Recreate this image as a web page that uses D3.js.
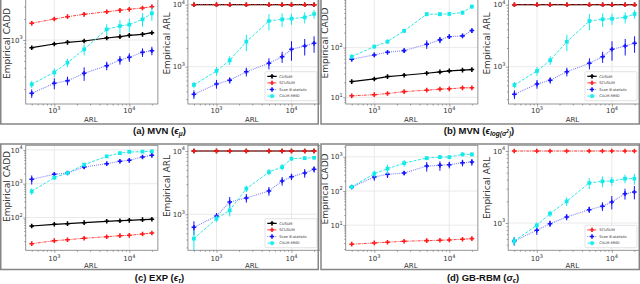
<!DOCTYPE html>
<html><head><meta charset="utf-8">
<script src="https://cdn.jsdelivr.net/npm/d3@7"></script>
<style>body{margin:0;background:#fff}svg{display:block}</style>
</head><body>
<svg id="c" width="640" height="284"></svg>
<script>
// ---------------- DATA ----------------
const ARL = [500, 1000, 1500, 2500, 5000, 7500, 10000, 15000, 20000];
const seriesNames = ["CUSUM", "SCUSUM", "Scan B-statistic", "CALM-MMD"];
const xTickLabels = ["10^3", "10^4"];

// (a) MVN (eps_mu)
const aCaddCusum = [776, 877, 927, 968, 1068, 1115, 1167, 1206, 1271];
const aCaddCusumErr = [25, 30, 30, 32, 35, 37, 38, 40, 42];
const aCaddScusum = [1733, 1995, 2153, 2328, 2536, 2656, 2746, 2865, 2990];
const aCaddScusumErr = [120, 130, 140, 150, 170, 180, 185, 190, 200];
const aCaddScanB = [173, 241, 262, 334, 430, 518, 566, 667, 703];
const aCaddScanBErr = [24, 43, 37, 73, 60, 73, 79, 93, 98];
const aCaddCalm = [233, 346, 474, 736, 1422, 1585, 1655, 1976, 2406];
const aCaddCalmErr = [27, 48, 66, 132, 254, 345, 361, 431, 525];

const aArlCusum = [10000, 10000, 10000, 10000, 10000, 10000, 10000, 10000, 10000];
const aArlScusum = [10000, 10000, 10000, 10000, 10000, 10000, 10000, 10000, 10000];
const aArlScanB = [359, 526, 604, 830, 1135, 1449, 1909, 2157, 2384];
const aArlScanBErr = [57, 84, 71, 133, 232, 296, 660, 641, 708];
const aArlCalm = [507, 853, 1268, 2530, 5458, 5816, 5943, 6266, 7079];
const aArlCalmErr = [60, 137, 203, 751, 1620, 1450, 1213, 1279, 1133];

// (b) MVN (eps_log(sigma^2))
const bCaddCusum = [20.7, 23.4, 26.1, 27.8, 30.5, 32.4, 34.0, 35.1, 36.1];
const bCaddCusumErr = [0.6, 0.6, 0.7, 0.7, 0.8, 0.8, 0.9, 0.9, 0.9];
const bCaddScusum = [10.7, 11.3, 11.9, 13.0, 13.9, 14.6, 14.8, 15.5, 15.5];
const bCaddScusumErr = [0.5, 0.5, 0.5, 0.6, 0.6, 0.6, 0.6, 0.7, 0.7];
const bCaddScanB = [58.4, 71.3, 80.7, 87, 117, 143, 166, 172, 220];
const bCaddScanBErr = [6, 7, 8, 9, 23, 21, 17, 17, 22];
const bCaddCalm = [65.9, 104.7, 132, 217, 470, 470, 476, 506, 668];
const bCaddCalmErr = [7, 10, 13, 22, 47, 47, 48, 51, 67];

const bArlCusum = [10000, 10000, 10000, 10000, 10000, 10000, 10000, 10000, 10000];
const bArlScusum = [10000, 10000, 10000, 10000, 10000, 10000, 10000, 10000, 10000];
const bArlScanB = [359, 526, 604, 830, 1135, 1449, 1909, 2157, 2384];
const bArlScanBErr = [57, 84, 71, 133, 232, 296, 660, 641, 708];
const bArlCalm = [507, 853, 1268, 2530, 5458, 5816, 5943, 6266, 7079];
const bArlCalmErr = [60, 137, 203, 751, 1620, 1450, 1213, 1279, 1133];

// (c) EXP (eps_tau)
const cCaddCusum = [56.1, 63, 65.6, 70.2, 77.3, 80.4, 82.6, 86.1, 88.5];
const cCaddCusumErr = [3, 3, 3, 3, 4, 4, 4, 4, 4];
const cCaddScusum = [16.8, 20.6, 22, 24.3, 27, 29, 29.7, 32.5, 34.8];
const cCaddScusumErr = [1, 1.2, 1.3, 1.4, 1.5, 1.6, 1.7, 1.8, 2];
const cCaddScanB = [1349, 1897, 2073, 3118, 3907, 4603, 4920, 6166, 6918];
const cCaddScanBErr = [405, 228, 207, 374, 390, 460, 492, 617, 692];
const cCaddCalm = [596, 1506, 2073, 3648, 6471, 8091, 8670, 8851, 9094];
const cCaddCalmErr = [131, 226, 207, 438, 647, 647, 520, 531, 546];

const cArlCusum = [10000, 10000, 10000, 10000, 10000, 10000, 10000, 10000, 10000];
const cArlScusum = [10000, 10000, 10000, 10000, 10000, 10000, 10000, 10000, 10000];
const cArlScanB = [623, 940, 1564, 1811, 2334, 3357, 3926, 4487, 5140];
const cArlScanBErr = [152, 108, 313, 284, 366, 527, 452, 704, 591];
const cArlCalm = [412, 853, 1157, 2537, 4656, 5585, 7551, 7743, 7822];
const cArlCalmErr = [144, 98, 231, 292, 535, 642, 566, 581, 587];

// (d) GB-RBM (sigma_eps)
const dCaddScusum = [2.77, 3.02, 3.16, 3.38, 3.52, 3.61, 3.69, 3.87, 4.03];
const dCaddScusumErr = [0.15, 0.15, 0.15, 0.17, 0.17, 0.18, 0.18, 0.19, 0.2];
const dCaddScanB = [131, 257, 308, 336, 538, 564, 588, 673, 705];
const dCaddScanBErr = [18, 57, 68, 47, 167, 175, 129, 148, 155];
const dCaddCalm = [131, 321, 449, 659, 923, 987, 987, 1183, 1183];
const dCaddCalmErr = [18, 71, 139, 145, 129, 138, 138, 166, 166];

const dArlScusum = [10000, 10000, 10000, 10000, 10000, 10000, 10000, 10000, 10000];
const dArlScanB = [562, 792, 978, 1211, 1531, 1706, 1958, 2553, 2696];
const dArlScanBErr = [77, 108, 98, 121, 153, 234, 413, 442, 569];
const dArlCalm = [562, 929, 1346, 2000, 3594, 3793, 3831, 4121, 4121];
const dArlCalmErr = [77, 93, 135, 274, 622, 656, 525, 565, 713];

// ---------------- STYLE ----------------
const styles = {
  "CUSUM": {mc: "#000", lc: "#000", dash: null, lw: 1.2, sym: d3.symbolCross, size: 12},
  "SCUSUM": {mc: "#ff1a1a", lc: "#ff2a2a", dash: "3,1,1,1", lw: 0.9, sym: d3.symbolCross, size: 12},
  "Scan B-statistic": {mc: "#1414ff", lc: "#8080ff", dash: "1,1", lw: 1.1, sym: d3.symbolCross, size: 12},
  "CALM-MMD": {mc: "#14eaea", lc: "#2ee8e8", dash: "3,1.5", lw: 1.0, sym: d3.symbolSquare, size: 14}
};
const zero = ARL.map(() => 0);
const S = (name, v, e) => ({name, v, e: e || zero});

const subplots = [
  // top row
  {x3: 54.3, clipL: 1.5, clipR: 317.5, y0: -2, y1: 104, yDom: [1e3, 1e4], yPx: [40, -30],
   ylabel: "Empirical CADD", ylx: 9.5, yly: 43.5, xly: 121.5, xtly: 113.3,
   series: [S("CUSUM", aCaddCusum, aCaddCusumErr), S("SCUSUM", aCaddScusum, aCaddScusumErr), S("Scan B-statistic", aCaddScanB, aCaddScanBErr), S("CALM-MMD", aCaddCalm, aCaddCalmErr)]},
  {x3: 216.5, clipL: 1.5, clipR: 317.5, y0: -2, y1: 104, yDom: [1e3, 1e4], yPx: [66.7, 4.7],
   ylabel: "Empirical ARL", ylx: 169.5, yly: 43.5, xly: 121.5, xtly: 113.3,
   series: [S("CUSUM", aArlCusum), S("SCUSUM", aArlScusum), S("Scan B-statistic", aArlScanB, aArlScanBErr), S("CALM-MMD", aArlCalm, aArlCalmErr)],
   legend: {x: 265, y: 71.7, w: 52, names: seriesNames}},
  {x3: 374.3, clipL: 321.8, clipR: 638.5, y0: -2, y1: 104, yDom: [1e1, 1e2], yPx: [97.3, 47.6],
   ylabel: "Empirical CADD", ylx: 327.5, yly: 43, xly: 121.5, xtly: 113.3,
   series: [S("CUSUM", bCaddCusum, bCaddCusumErr), S("SCUSUM", bCaddScusum, bCaddScusumErr), S("Scan B-statistic", bCaddScanB, bCaddScanBErr), S("CALM-MMD", bCaddCalm, bCaddCalmErr)]},
  {x3: 537, clipL: 321.8, clipR: 638.5, y0: -2, y1: 104, yDom: [1e3, 1e4], yPx: [66.7, 4.7],
   ylabel: "Empirical ARL", ylx: 489.5, yly: 43.5, xly: 121.5, xtly: 113.3,
   series: [S("CUSUM", bArlCusum), S("SCUSUM", bArlScusum), S("Scan B-statistic", bArlScanB, bArlScanBErr), S("CALM-MMD", bArlCalm, bArlCalmErr)],
   legend: {x: 585, y: 71.7, w: 52, names: seriesNames}},
  // bottom row
  {x3: 54.3, clipL: 1.5, clipR: 317.5, y0: 145.3, y1: 250.3, yDom: [1e3, 1e4], yPx: [183.7, 149.9],
   ylabel: "Empirical CADD", ylx: 9.5, yly: 186.5, xly: 268, xtly: 260.8,
   series: [S("CUSUM", cCaddCusum, cCaddCusumErr), S("SCUSUM", cCaddScusum, cCaddScusumErr), S("Scan B-statistic", cCaddScanB, cCaddScanBErr), S("CALM-MMD", cCaddCalm, cCaddCalmErr)]},
  {x3: 216.5, clipL: 1.5, clipR: 317.5, y0: 145.3, y1: 250.3, yDom: [1e3, 1e4], yPx: [214.3, 151],
   ylabel: "Empirical ARL", ylx: 169.5, yly: 186, xly: 268, xtly: 260.8,
   series: [S("CUSUM", cArlCusum), S("SCUSUM", cArlScusum), S("Scan B-statistic", cArlScanB, cArlScanBErr), S("CALM-MMD", cArlCalm, cArlCalmErr)],
   legend: {x: 265, y: 218.7, w: 52, names: seriesNames}},
  {x3: 374.3, clipL: 321.8, clipR: 638.5, y0: 145.3, y1: 250.3, yDom: [1e2, 1e3], yPx: [191, 156.85],
   ylabel: "Empirical CADD", ylx: 327.5, yly: 189, xly: 268, xtly: 260.8,
   series: [S("SCUSUM", dCaddScusum, dCaddScusumErr), S("Scan B-statistic", dCaddScanB, dCaddScanBErr), S("CALM-MMD", dCaddCalm, dCaddCalmErr)]},
  {x3: 536.8, clipL: 321.8, clipR: 638.5, y0: 145.3, y1: 250.3, yDom: [1e3, 1e4], yPx: [223, 151],
   ylabel: "Empirical ARL", ylx: 489.5, yly: 188, xly: 268, xtly: 260.8,
   series: [S("SCUSUM", dArlScusum), S("Scan B-statistic", dArlScanB, dArlScanBErr), S("CALM-MMD", dArlCalm, dArlCalmErr)],
   legend: {x: 585, y: 225.3, w: 52, names: seriesNames.slice(1)}}
];

const frames = [
  {x: 0.75, y: -3, w: 317.5, h: 127},
  {x: 321, y: -3, w: 318.3, h: 127},
  {x: 0.75, y: 144, w: 317.5, h: 125.5},
  {x: 321, y: 144, w: 318.3, h: 125.5}
];

// ---------------- DRAW ----------------
const svg = d3.select("#c");
const FONT = "DejaVu Sans, sans-serif";
const defs = svg.append("defs");

function powLabel(g, val, x, y, anchor) {
  const k = Math.round(Math.log10(val));
  const t = g.append("text").attr("x", x).attr("y", y).attr("text-anchor", anchor)
    .attr("font-family", FONT).attr("font-size", 7).attr("fill", "#333");
  t.append("tspan").text("10");
  t.append("tspan").attr("dy", -3.2).attr("font-size", 5).text(k);
}

subplots.forEach((s, i) => {
  const x = d3.scaleLog().domain([1e3, 1e4]).range([s.x3, s.x3 + 75]);
  const y = d3.scaleLog().domain(s.yDom).range(s.yPx);
  const x0 = x(Math.pow(10, 2.619));
  const x1 = x(Math.pow(10, 4.381));
  const g = svg.append("g");
  const cid = "clip" + i;
  const cl = Math.max(x0, s.clipL), cr = Math.min(x1, s.clipR);
  defs.append("clipPath").attr("id", cid).append("rect")
    .attr("x", cl - 3).attr("y", s.y0 - 3).attr("width", cr - cl + 6).attr("height", s.y1 - s.y0 + 6);
  const pc = "clipP" + i;
  defs.append("clipPath").attr("id", pc).append("rect")
    .attr("x", cl).attr("y", s.y0).attr("width", cr - cl).attr("height", s.y1 - s.y0);

  // grid
  const yLo = y.invert(s.y1), yHi = y.invert(s.y0);
  const yMajors = [];
  for (let k = -1; k <= 6; k++) { const v = Math.pow(10, k); if (v >= Math.min(yLo, yHi) && v <= Math.max(yLo, yHi)) yMajors.push(v); }
  const yMinors = [];
  for (let k = -1; k <= 6; k++) for (let m = 2; m <= 9; m++) { const v = m * Math.pow(10, k); if (v >= Math.min(yLo, yHi) && v <= Math.max(yLo, yHi)) yMinors.push(v); }
  const xMajors = [1e3, 1e4];
  const xMinors = [];
  for (let k = 2; k <= 4; k++) for (let m = 2; m <= 9; m++) { const v = m * Math.pow(10, k); if (x(v) >= x0 && x(v) <= x1) xMinors.push(v); }

  const gg = g.append("g").attr("clip-path", `url(#${pc})`);
  gg.selectAll(".gx").data(xMajors).join("line").attr("x1", d => x(d)).attr("x2", d => x(d))
    .attr("y1", s.y0).attr("y2", s.y1).attr("stroke", "#e4e4e4").attr("stroke-width", 0.8);
  gg.selectAll(".gy").data(yMajors).join("line").attr("y1", d => y(d)).attr("y2", d => y(d))
    .attr("x1", x0).attr("x2", x1).attr("stroke", "#e4e4e4").attr("stroke-width", 0.8);

  // series
  const dg = g.append("g").attr("clip-path", `url(#${cid})`);
  s.series.forEach(se => {
    const st = styles[se.name];
    const pts = ARL.map((a, j) => ({a, v: se.v[j], e: se.e[j]}));
    dg.append("path").datum(pts)
      .attr("d", d3.line().x(d => x(d.a)).y(d => y(d.v)))
      .attr("fill", "none").attr("stroke", st.lc).attr("stroke-width", st.lw)
      .attr("stroke-dasharray", st.dash);
    dg.selectAll(null).data(pts.filter(d => d.e > 0)).join("line")
      .attr("x1", d => x(d.a)).attr("x2", d => x(d.a))
      .attr("y1", d => y(Math.max(d.v - d.e, 1e-3))).attr("y2", d => y(d.v + d.e))
      .attr("stroke", st.mc).attr("stroke-width", 1);
    dg.selectAll(null).data(pts).join("path")
      .attr("transform", d => `translate(${x(d.a)},${y(d.v)})`)
      .attr("d", d3.symbol().type(st.sym).size(st.size))
      .attr("fill", st.mc);
  });

  // spines
  g.append("rect").attr("x", x0).attr("y", s.y0).attr("width", x1 - x0).attr("height", s.y1 - s.y0)
    .attr("fill", "none").attr("stroke", "#8a8a8a").attr("stroke-width", 0.9)
    .attr("clip-path", `url(#${cid})`);

  // axes ticks
  const axB = g.append("g").attr("transform", `translate(0,${s.y1})`)
    .call(d3.axisBottom(x).tickValues(xMajors).tickSize(2.5).tickSizeOuter(0).tickFormat(""));
  const axBm = g.append("g").attr("transform", `translate(0,${s.y1})`)
    .call(d3.axisBottom(x).tickValues(xMinors).tickSize(1.5).tickSizeOuter(0).tickFormat(""));
  const axL = g.append("g").attr("transform", `translate(${x0},0)`)
    .call(d3.axisLeft(y).tickValues(yMajors).tickSize(2.5).tickSizeOuter(0).tickFormat(""));
  const axLm = g.append("g").attr("transform", `translate(${x0},0)`)
    .call(d3.axisLeft(y).tickValues(yMinors).tickSize(1.5).tickSizeOuter(0).tickFormat(""));
  [axB, axBm, axL, axLm].forEach(a => {
    a.select(".domain").remove();
    a.selectAll("line").attr("stroke", "#777").attr("stroke-width", 0.7);
  });

  xMajors.forEach(v => powLabel(g, v, x(v), s.xtly, "middle"));
  yMajors.forEach(v => powLabel(g, v, x0 - 3, y(v) + 2.6, "end"));

  // axis labels
  g.append("text").attr("x", (x0 + Math.min(x1, s.clipR)) / 2 - 1).attr("y", s.xly)
    .attr("text-anchor", "middle").attr("font-family", FONT).attr("font-size", 7).attr("fill", "#333").text("ARL");
  g.append("text").attr("transform", `translate(${s.ylx},${s.yly}) rotate(-90)`)
    .attr("text-anchor", "middle").attr("font-family", FONT).attr("font-size", 9).attr("fill", "#333").text(s.ylabel);

  // legend
  if (s.legend) {
    const L = s.legend;
    const lg = g.append("g").attr("clip-path", `url(#${cid})`);
    const h = 4.6 + (L.names.length - 1) * 6.6 + 4.6;
    lg.append("rect").attr("x", L.x).attr("y", L.y).attr("width", L.w).attr("height", h)
      .attr("rx", 1).attr("fill", "#fff").attr("fill-opacity", 0.9).attr("stroke", "#d0d0d0").attr("stroke-width", 0.6);
    L.names.forEach((n, j) => {
      const st = styles[n];
      const yy = L.y + 4.6 + j * 6.6;
      lg.append("line").attr("x1", L.x + 2.3).attr("x2", L.x + 11.7).attr("y1", yy).attr("y2", yy)
        .attr("stroke", st.lc).attr("stroke-width", st.lw).attr("stroke-dasharray", st.dash);
      lg.append("line").attr("x1", L.x + 7).attr("x2", L.x + 7).attr("y1", yy - 2.2).attr("y2", yy + 2.2)
        .attr("stroke", st.mc).attr("stroke-width", 0.8);
      lg.append("path").attr("transform", `translate(${L.x + 7},${yy})`)
        .attr("d", d3.symbol().type(st.sym).size(st.size * 0.8)).attr("fill", st.mc);
      lg.append("text").attr("x", L.x + 14.3).attr("y", yy + 1.3)
        .attr("font-family", FONT).attr("font-size", 3.6).attr("fill", "#333").text(n);
    });
  }
});

// frames
svg.selectAll(".frame").data(frames).join("rect")
  .attr("x", d => d.x).attr("y", d => d.y).attr("width", d => d.w).attr("height", d => d.h)
  .attr("fill", "none").attr("stroke", "#858585").attr("stroke-width", 1.5);

// captions
const CF = "Liberation Sans, Arial, sans-serif";
function caption(cx, cy, parts) {
  const t = svg.append("text").attr("x", cx).attr("y", cy).attr("text-anchor", "middle")
    .attr("font-family", CF).attr("font-size", 9.5).attr("font-weight", "bold").attr("fill", "#111");
  parts.forEach(p => {
    const ts = t.append("tspan").text(p.t);
    if (p.dy) ts.attr("dy", p.dy);
    if (p.fs) ts.attr("font-size", p.fs);
    if (p.it) ts.attr("font-style", "italic");
  });
}
caption(159.5, 133.5, [{t: "(a) MVN ("}, {t: "\u03F5", it: 1}, {t: "\u03BC", it: 1, fs: 6.5, dy: 2}, {t: ")", dy: -2}]);
caption(479, 133.5, [{t: "(b) MVN ("}, {t: "\u03F5", it: 1}, {t: "log(\u03C3", it: 1, fs: 6.5, dy: 2}, {t: "2", it: 1, fs: 4.8, dy: -3}, {t: ")", it: 1, fs: 6.5, dy: 3}, {t: ")", dy: -2}]);
caption(159.5, 280.5, [{t: "(c) EXP ("}, {t: "\u03F5", it: 1}, {t: "\u03C4", it: 1, fs: 6.5, dy: 2}, {t: ")", dy: -2}]);
caption(483, 280.5, [{t: "(d) GB-RBM ("}, {t: "\u03C3", it: 1}, {t: "\u03F5", it: 1, fs: 6.5, dy: 2}, {t: ")", dy: -2}]);
</script>
</body></html>
